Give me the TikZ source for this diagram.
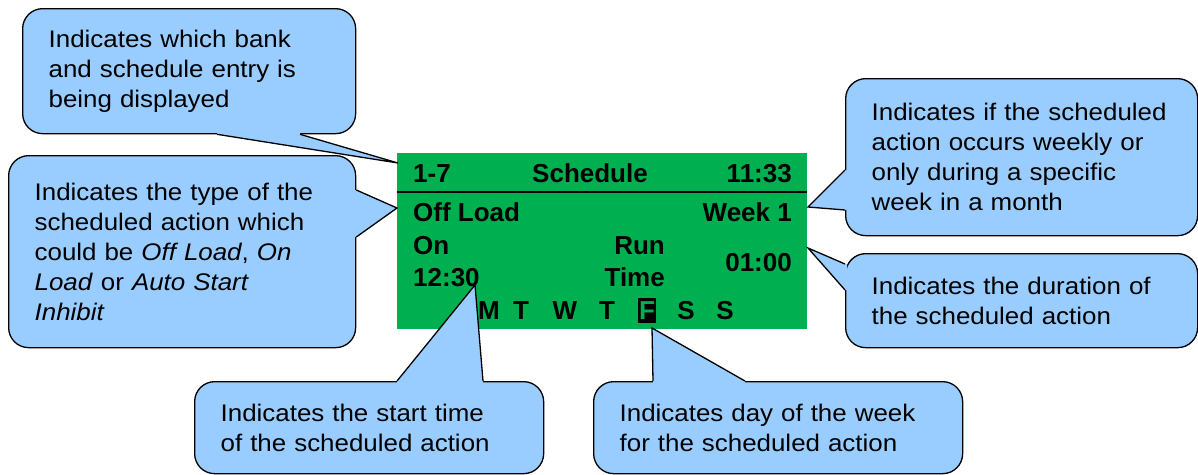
\documentclass[tikz,border=0pt]{standalone}
\usepackage{fontspec}
\setmainfont[FakeStretch=1.08]{Liberation Sans}
\newfontfamily\panelfont{Liberation Sans}
\usetikzlibrary{calc}
\definecolor{calloutblue}{RGB}{153,204,255}
\definecolor{panelgreen}{RGB}{0,176,80}
\tikzset{
  callout/.style={
    draw=black,
    fill=calloutblue,
    line width=1.3pt,
    rounded corners=20pt,
    anchor=north west,
    align=left,
    inner xsep=26pt,
    inner ysep=0pt,
    font=\fontsize{24}{30}\selectfont,
  },
  readout/.style={
    font=\panelfont\fontsize{26}{30}\selectfont\bfseries,
    inner sep=0pt,
  },
  pointer/.style={
    draw=black,
    line width=1.3pt,
  }
}

\begin{document}
\begin{tikzpicture}[x=1pt, y=1pt]
  \useasboundingbox (0, 0) rectangle (1198, -474);

  \node[fill=panelgreen, minimum width=410, minimum height=176, inner sep=0pt, anchor=north west] (panel) at (397, -153) {};
  \draw[line width=1.5pt] (panel.west |- 0, -192) -- (panel.east |- 0, -192);

  \node[readout, anchor=base west] (bank) at (413, -182) {1-7};
  \node[readout, anchor=base west] (title) at (532, -182) {Schedule};
  \node[readout, anchor=base east] (clock) at (792, -182) {11:33};
  \node[readout, anchor=base west] (action) at (413, -221) {Off Load};
  \node[readout, anchor=base east] (week) at (792, -221) {Week 1};
  \node[readout, anchor=base west] (on) at (413, -254) {On};
  \node[readout, anchor=base west] (start) at (413, -286) {12:30};
  \node[readout, anchor=base east] (run) at (665, -254) {Run};
  \node[readout, anchor=base east] (time) at (665, -286) {Time};
  \node[readout, anchor=base east] (duration) at (792, -271) {01:00};
  \foreach \x/\day in {489/M, 521/T, 565/W, 607/T, 686/S, 725/S}
    \node[readout, anchor=base] at (\x, -319) {\day};
  \node[readout, anchor=base, fill=black, text=panelgreen, inner xsep=1.2pt, inner ysep=3.5pt] (friday) at (647, -319) {F};

  \coordinate (bankTip) at (398, -163);
  \coordinate (typeTip) at (397, -208);
  \coordinate (weekTip) at (808, -207);
  \coordinate (durationTip) at (808, -248);
  \coordinate (startTip) at (475, -285);
  \coordinate (dayTip) at (652, -328);

  \node[callout, text width=281, minimum height=125] (bankNote) at (22, -8)
    {Indicates which bank\\and schedule entry is\\being displayed};
  \node[callout, text width=295, minimum height=192] (typeNote) at (8, -155)
    {Indicates the type of the\\scheduled action which\\could be \textit{Off Load}, \textit{On}\\\textit{Load} or \textit{Auto Start}\\\textit{Inhibit}};
  \node[callout, text width=300, minimum height=157] (weekNote) at (845, -78)
    {Indicates if the scheduled\\action occurs weekly or\\only during a specific\\week in a month};
  \node[callout, text width=300, minimum height=94] (durationNote) at (845, -253)
    {Indicates the duration of\\the scheduled action};
  \node[callout, text width=297, minimum height=92] (startNote) at (194, -381)
    {Indicates the start time\\of the scheduled action};
  \node[callout, text width=317, minimum height=92] (dayNote) at (593, -381)
    {Indicates day of the week\\for the scheduled action};

  \fill[calloutblue] ($(bankNote.south west)+(195, 0)$) -- (bankTip) -- ($(bankNote.south west)+(278, 0)$) -- ++(0, 2) -- ($(bankNote.south west)+(195, 2)$) -- cycle;
  \draw[pointer] ($(bankNote.south west)+(195, 0)$) -- (bankTip) -- ($(bankNote.south west)+(278, 0)$);

  \fill[calloutblue] ($(typeNote.north east)+(0, -35)$) -- (typeTip) -- ($(typeNote.north east)+(0, -82)$) -- ++(-2, 0) -- ($(typeNote.north east)+(-2, -35)$) -- cycle;
  \draw[pointer] ($(typeNote.north east)+(0, -35)$) -- (typeTip) -- ($(typeNote.north east)+(0, -82)$);

  \fill[calloutblue] ($(weekNote.north west)+(0, -92)$) -- (weekTip) -- ($(weekNote.north west)+(0, -132)$) -- ++(2, 0) -- ($(weekNote.north west)+(2, -92)$) -- cycle;
  \draw[pointer] ($(weekNote.north west)+(0, -92)$) -- (weekTip) -- ($(weekNote.north west)+(0, -132)$);

  \fill[calloutblue] ($(durationNote.north west)+(0, -11)$) -- (durationTip) -- ($(durationNote.north west)+(0, -37)$) -- ++(2, 0) -- ($(durationNote.north west)+(2, -11)$) -- cycle;
  \draw[pointer] ($(durationNote.north west)+(0, -11)$) -- (durationTip) -- ($(durationNote.north west)+(0, -37)$);

  \fill[calloutblue] ($(startNote.north west)+(203, 0)$) -- (startTip) -- ($(startNote.north west)+(289, 0)$) -- ++(0, -2) -- ($(startNote.north west)+(203, -2)$) -- cycle;
  \draw[pointer] ($(startNote.north west)+(203, 0)$) -- (startTip) -- ($(startNote.north west)+(289, 0)$);

  \fill[calloutblue] ($(dayNote.north west)+(60, 0)$) -- (dayTip) -- ($(dayNote.north west)+(152, 0)$) -- ++(0, -2) -- ($(dayNote.north west)+(60, -2)$) -- cycle;
  \draw[pointer] ($(dayNote.north west)+(60, 0)$) -- (dayTip) -- ($(dayNote.north west)+(152, 0)$);

\end{tikzpicture}
\end{document}
